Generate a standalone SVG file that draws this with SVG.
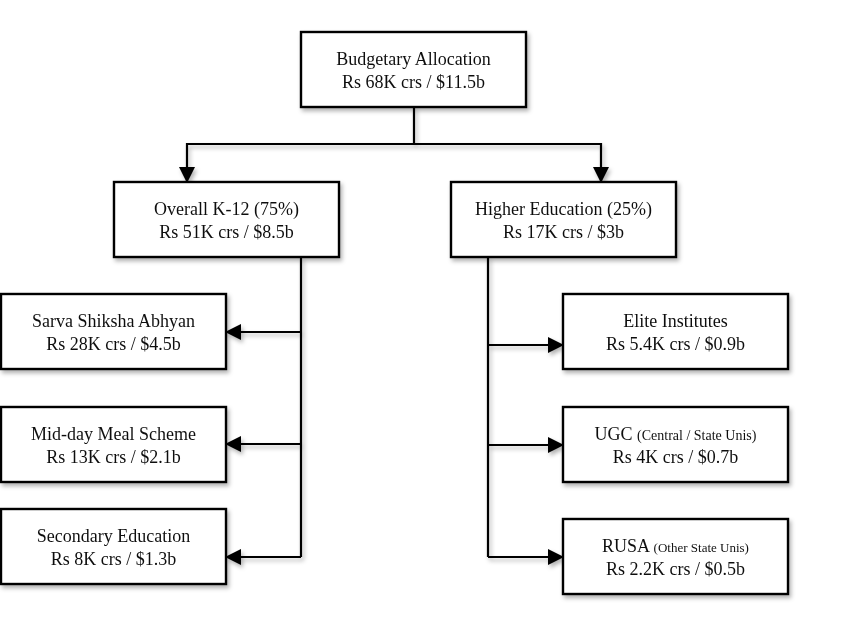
<svg xmlns="http://www.w3.org/2000/svg" width="864" height="635" viewBox="0 0 864 635">
<defs>
<filter id="sh" x="-10%" y="-10%" width="130%" height="140%">
<feDropShadow dx="2" dy="3" stdDeviation="2" flood-color="#000" flood-opacity="0.3"/>
</filter>
<marker id="ah" viewBox="0 0 16 16" refX="15" refY="8" markerWidth="16" markerHeight="16" markerUnits="userSpaceOnUse" orient="auto">
<path d="M0,0 L16,8 L0,16 z" fill="#000"/>
</marker>
<style>
.box{fill:#fff;stroke:#000;stroke-width:2.4}
.t{font-family:"Liberation Serif","Times New Roman",serif;font-size:18px;fill:#111;text-anchor:middle}
.s{font-size:14px}
.c{fill:none;stroke:#000;stroke-width:2.2;stroke-linejoin:miter}
</style>
</defs>
<rect width="864" height="635" fill="#fff"/>
<g id="connectors" filter="url(#sh)">
<path class="c" d="M414,107 V144"/>
<path class="c" d="M414,144 H187 V182" marker-end="url(#ah)"/>
<path class="c" d="M414,144 H601 V182" marker-end="url(#ah)"/>
<path class="c" d="M301,257 V557"/>
<path class="c" d="M301,332 H226" marker-end="url(#ah)"/>
<path class="c" d="M301,444 H226" marker-end="url(#ah)"/>
<path class="c" d="M301,557 H226" marker-end="url(#ah)"/>
<path class="c" d="M488,257 V557"/>
<path class="c" d="M488,345 H563" marker-end="url(#ah)"/>
<path class="c" d="M488,445 H563" marker-end="url(#ah)"/>
<path class="c" d="M488,557 H563" marker-end="url(#ah)"/>
</g>
<g id="budget" filter="url(#sh)">
<rect class="box" x="301" y="32" width="225" height="75"/>
<text class="t" x="413.5" y="65">Budgetary Allocation</text>
<text class="t" x="413.5" y="88">Rs 68K crs / $11.5b</text>
</g>
<g id="k12" filter="url(#sh)">
<rect class="box" x="114" y="182" width="225" height="75"/>
<text class="t" x="226.5" y="215">Overall K-12 (75%)</text>
<text class="t" x="226.5" y="238">Rs 51K crs / $8.5b</text>
</g>
<g id="higher" filter="url(#sh)">
<rect class="box" x="451" y="182" width="225" height="75"/>
<text class="t" x="563.5" y="215">Higher Education (25%)</text>
<text class="t" x="563.5" y="238">Rs 17K crs / $3b</text>
</g>
<g id="ssa" filter="url(#sh)">
<rect class="box" x="1" y="294" width="225" height="75"/>
<text class="t" x="113.5" y="327">Sarva Shiksha Abhyan</text>
<text class="t" x="113.5" y="350">Rs 28K crs / $4.5b</text>
</g>
<g id="mdm" filter="url(#sh)">
<rect class="box" x="1" y="407" width="225" height="75"/>
<text class="t" x="113.5" y="440">Mid-day Meal Scheme</text>
<text class="t" x="113.5" y="463">Rs 13K crs / $2.1b</text>
</g>
<g id="secondary" filter="url(#sh)">
<rect class="box" x="1" y="509" width="225" height="75"/>
<text class="t" x="113.5" y="542">Secondary Education</text>
<text class="t" x="113.5" y="565">Rs 8K crs / $1.3b</text>
</g>
<g id="elite" filter="url(#sh)">
<rect class="box" x="563" y="294" width="225" height="75"/>
<text class="t" x="675.5" y="327">Elite Institutes</text>
<text class="t" x="675.5" y="350">Rs 5.4K crs / $0.9b</text>
</g>
<g id="ugc" filter="url(#sh)">
<rect class="box" x="563" y="407" width="225" height="75"/>
<text class="t" x="675.5" y="440">UGC <tspan class="s">(Central / State Unis)</tspan></text>
<text class="t" x="675.5" y="463">Rs 4K crs / $0.7b</text>
</g>
<g id="rusa" filter="url(#sh)">
<rect class="box" x="563" y="519" width="225" height="75"/>
<text class="t" x="675.5" y="552">RUSA <tspan class="s" style="font-size:13px">(Other State Unis)</tspan></text>
<text class="t" x="675.5" y="575">Rs 2.2K crs / $0.5b</text>
</g>
</svg>
